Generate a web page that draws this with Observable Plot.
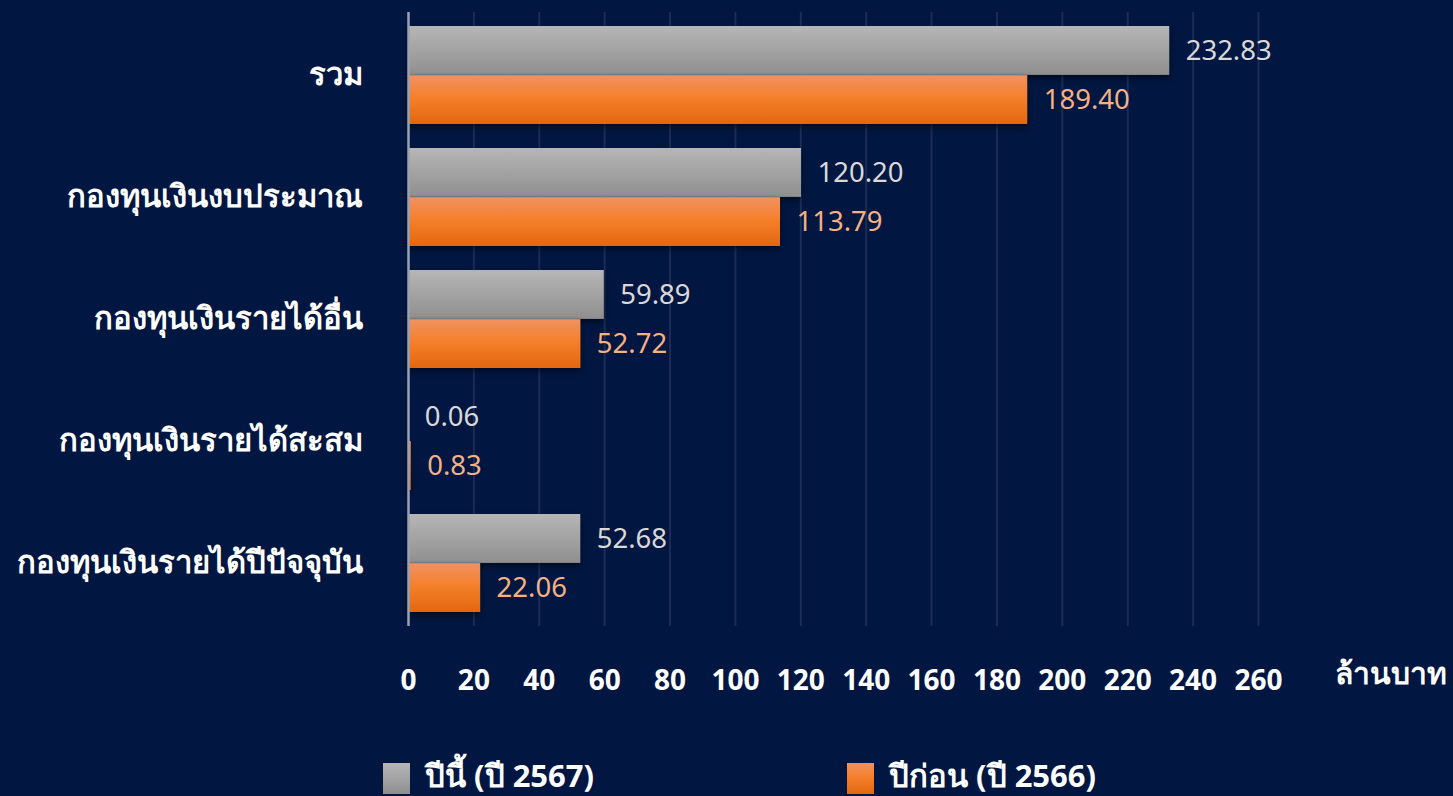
<!DOCTYPE html>
<html><head><meta charset="utf-8">
<script src="https://cdn.jsdelivr.net/npm/d3@7"></script>
<script src="https://cdn.jsdelivr.net/npm/@observablehq/plot@0.6"></script>
<style>
html{margin:0;padding:0;background:#011640;overflow:hidden;}
body{margin:0;padding:0;height:796px;background:#011640;font-family:Tahoma,"Noto Sans","DejaVu Sans",sans-serif;color:#fff;position:relative;}
#legend{display:flex;position:absolute;left:383px;top:755px;}
.item{display:flex;align-items:center;width:464px;font-size:31px;font-weight:bold;line-height:36px;}
.sw{width:27px;height:31px;margin-right:15px;margin-top:8px;}
</style></head><body>
<div id="chart"></div>
<div id="legend"></div>
<script>
const categories = ["รวม","กองทุนเงินงบประมาณ","กองทุนเงินรายได้อื่น","กองทุนเงินรายได้สะสม","กองทุนเงินรายได้ปีปัจจุบัน"];
const thisYear = [232.83,120.20,59.89,0.06,52.68];
const lastYear = [189.40,113.79,52.72,0.83,22.06];
const seriesNames = ["ปีนี้ (ปี 2567)","ปีก่อน (ปี 2566)"];
const xTicks = [0,20,40,60,80,100,120,140,160,180,200,220,240,260];
const unitLabel = "ล้านบาท";

const rowsNow = categories.map((c,i)=>({category:c, series:seriesNames[0], value:thisYear[i]}));
const rowsPrev = categories.map((c,i)=>({category:c, series:seriesNames[1], value:lastYear[i]}));

const W=1453, H=745, mt=12, mb=H-626, ml=408, mr=W-1258;
const pInner=0.2, pOuter=0.1;
const step=(H-mt-mb)/(categories.length - pInner + 2*pOuter);
const bw=step*(1-pInner);
const half=bw/2;

function defs(){
  const d = d3.create("svg:defs");
  const g1 = d.append("linearGradient").attr("id","gGray").attr("x1",0).attr("y1",0).attr("x2",0).attr("y2",1);
  g1.append("stop").attr("offset","0%").attr("stop-color","#b6b6b6");
  g1.append("stop").attr("offset","100%").attr("stop-color","#8f8f8f");
  const g2 = d.append("linearGradient").attr("id","gOrange").attr("x1",0).attr("y1",0).attr("x2",0).attr("y2",1);
  g2.append("stop").attr("offset","0%").attr("stop-color","#f09262");
  g2.append("stop").attr("offset","45%").attr("stop-color","#f5802c");
  g2.append("stop").attr("offset","100%").attr("stop-color","#e3670f");
  const f = d.append("filter").attr("id","shadow").attr("x","-5%").attr("y","-20%").attr("width","110%").attr("height","150%");
  f.append("feDropShadow").attr("dx",0).attr("dy",3).attr("stdDeviation",3).attr("flood-color","#000").attr("flood-opacity",0.55);
  return d.node();
}

const chart = Plot.plot({
  width:W, height:H, marginTop:mt, marginBottom:mb, marginLeft:ml, marginRight:mr,
  style:{background:"transparent", color:"#fff", fontFamily:'Tahoma,"Noto Sans","DejaVu Sans",sans-serif', fontSize:"26px", overflow:"visible"},
  x:{domain:[0,260], ticks:xTicks},
  y:{domain:categories, paddingInner:pInner, paddingOuter:pOuter, label:null},
  marks:[
    defs,
    Plot.ruleX(xTicks.slice(1), {stroke:"#1c2c57", strokeWidth:2}),
    Plot.barX(rowsNow, {x:"value", y:"category", fill:"url(#gGray)", insetBottom:half}),
    Plot.barX(rowsPrev, {x:"value", y:"category", fill:"url(#gOrange)", insetTop:half}),
    Plot.ruleX([0], {stroke:"#9aa2b4", strokeWidth:2.5}),
    Plot.text(rowsNow, {x:"value", y:"category", text:d=>d.value.toFixed(2), dy:-half/2, dx:16, textAnchor:"start", fill:"#d9d9d9", fontSize:27.5}),
    Plot.text(rowsPrev, {x:"value", y:"category", text:d=>d.value.toFixed(2), dy:half/2, dx:16, textAnchor:"start", fill:"#f4b183", fontSize:27.5}),
    Plot.axisX({ticks:xTicks, tickSize:0, tickPadding:44, tickFormat:d=>String(d), fontWeight:"bold", fontSize:28, label:null}),
    Plot.axisY({tickSize:0, tickPadding:46, fontWeight:"bold", fontSize:31, label:null}),
    Plot.text([unitLabel], {frameAnchor:"bottom-right", text:d=>d, dx:76, dy:57, textAnchor:"start", fontWeight:"bold", fontSize:30, fill:"#fff"})
  ]
});
chart.querySelectorAll('g[aria-label="bar"]').forEach(g=>g.setAttribute("filter","url(#shadow)"));
document.getElementById("chart").append(chart);

const legendColors = ["linear-gradient(#b6b6b6,#8f8f8f)","linear-gradient(#f09262,#f5802c 45%,#e3670f)"];
const lg = d3.select("#legend");
seriesNames.forEach((s,i)=>{
  const it = lg.append("div").attr("class","item");
  it.append("div").attr("class","sw").style("background",legendColors[i]);
  it.append("span").text(s);
});
</script>
</body></html>
